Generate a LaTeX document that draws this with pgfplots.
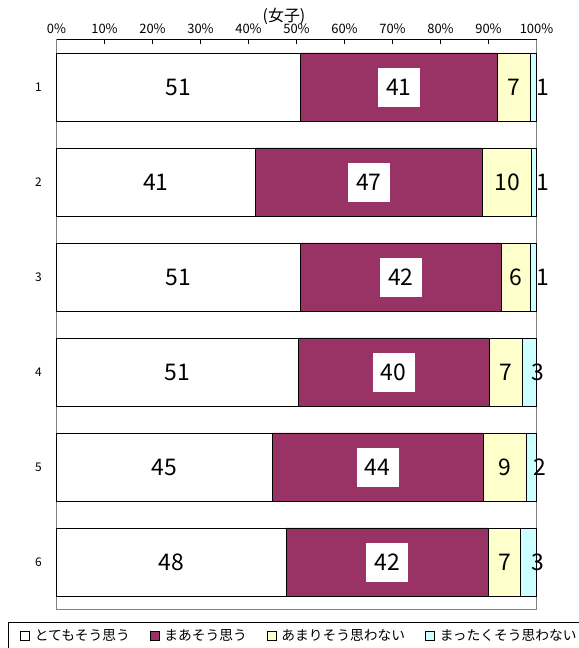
\documentclass[border=0pt]{standalone}
\usepackage{pgfplots}
\pgfplotsset{compat=1.18}
\usepackage{pgfplotstable}
\usepackage{fontspec}
\setmainfont{Noto Sans CJK JP}
\definecolor{cpurple}{HTML}{993366}
\definecolor{cyellow}{HTML}{FFFFCC}
\definecolor{cblue}{HTML}{CCFFFF}
\pgfplotstableread{
cat a la b lb c lc d ld
1 50.8 51 41.0 41 6.95 7 1.25 1
2 41.4 41 47.4 47 10.2 10 1.0 1
3 50.8 51 41.9 42 6.05 6 1.25 1
4 50.4 51 39.7 40 6.9 7 3.0 3
5 44.9 45 44.0 44 8.9 9 2.2 2
6 47.9 48 42.1 42 6.7 7 3.3 3
}\data
\begin{document}
\begin{tikzpicture}
\useasboundingbox (0,0) rectangle (579bp,-648bp);
\begin{axis}[
  at={(56.5bp,-39.5bp)}, anchor=north west,
  scale only axis, width=480bp, height=570bp,
  xbar stacked, bar width=0.716,
  xmin=0, xmax=100, ymin=0.5, ymax=6.5, y dir=reverse,
  clip=false,
  xtick={0,10,...,100},
  xticklabel={\pgfmathprintnumber[assume math mode=true]{\tick}\%},
  xticklabel pos=right, xtick pos=right, xtick align=inside,
  major tick length=4.5bp,
  xtick style={black, line width=0.8bp},
  xticklabel style={anchor=center, yshift=10.5bp, font=\fontsize{13}{15}\selectfont},
  ytick={1,...,6}, ytick style={draw=none},
  yticklabel={\pgfmathprintnumber[assume math mode=true]{\tick}},
  yticklabel style={anchor=center, xshift=-18bp, font=\fontsize{12}{14}\selectfont},
  axis line style={gray, line width=0.8bp},
  nodes near coords, point meta=explicit symbolic,
  every node near coord/.append style={anchor=center, font=\fontsize{23}{26}\selectfont, text=black},
  legend image code/.code={\draw[#1, draw=black, line width=0.6bp] (0bp,-4.5bp) rectangle (9bp,4.5bp);},
  legend style={at={(axis description cs:-0.101,-0.0218)}, anchor=north west,
    legend columns=4, draw=black, line width=0.6bp,
    font=\fontsize{13.8}{16}\selectfont,
    inner ysep=5bp, inner xsep=12bp,
    /tikz/every odd column/.append style={column sep=3bp},
    /tikz/every even column/.append style={column sep=18bp}},
]
\addplot[fill=white, draw=black, line width=0.8bp] table[x=a, y=cat, meta=la]{\data};
\addplot[fill=cpurple, draw=black, line width=0.8bp, every node near coord/.append style={fill=white, minimum width=42bp, minimum height=39bp, inner sep=0pt}] table[x=b, y=cat, meta=lb]{\data};
\addplot[fill=cyellow, draw=black, line width=0.8bp] table[x=c, y=cat, meta=lc]{\data};
\addplot[fill=cblue, draw=black, line width=0.8bp, every node near coord/.append style={xshift=9bp}] table[x=d, y=cat, meta=ld]{\data};
\legend{とてもそう思う, まあそう思う, あまりそう思わない, まったくそう思わない}
\draw[black, line width=0.8bp] (axis cs:0,0.5) -- (axis cs:100,0.5);
\end{axis}
\node at (284bp,-16bp) {\fontsize{16}{18}\selectfont (女子)};
\end{tikzpicture}
\end{document}
